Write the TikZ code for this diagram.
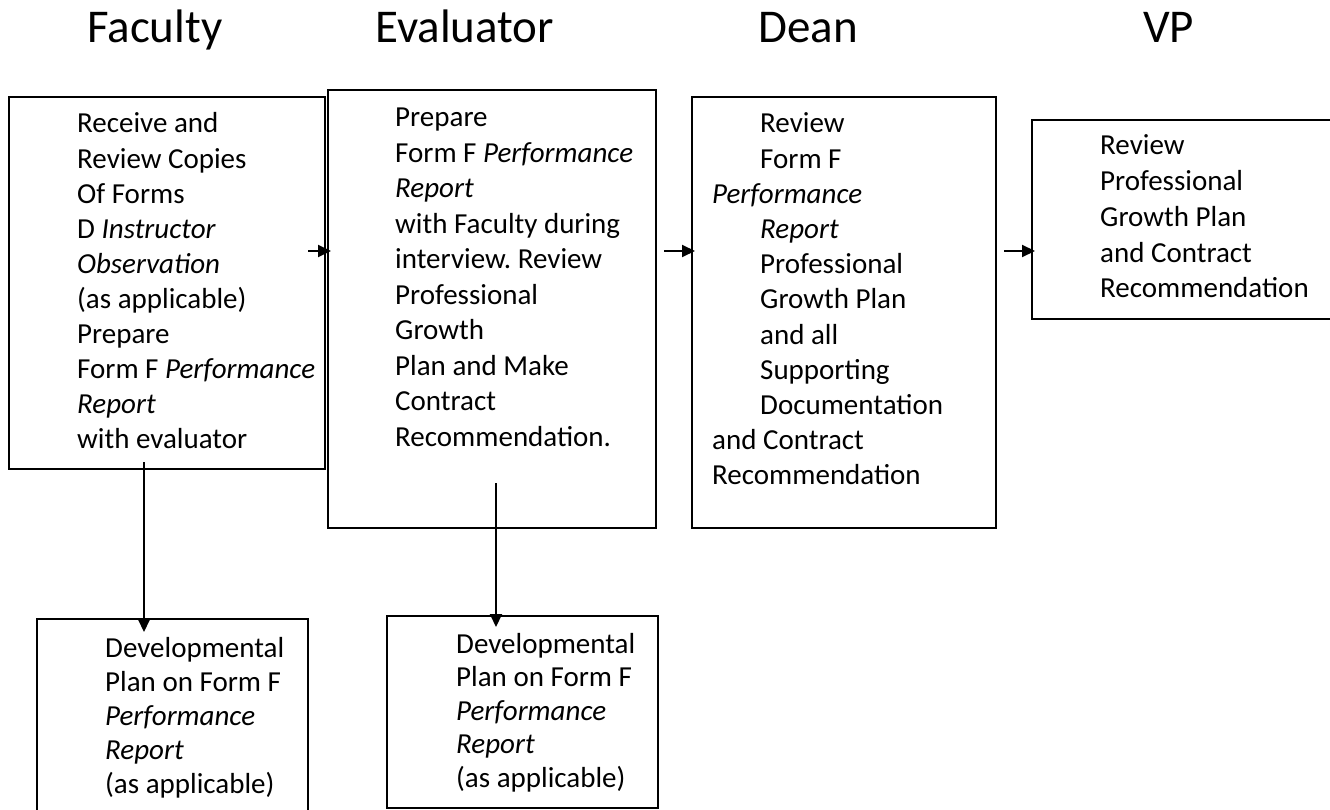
\documentclass[tikz,border=0pt]{standalone}
\usepackage{fontspec}
\setmainfont{Carlito}
\frenchspacing
\usetikzlibrary{arrows.meta,calc}
\begin{document}
\begin{tikzpicture}[x=1pt,y=-1pt,
  box/.style={draw, line width=1.8pt, inner sep=0pt, anchor=north west},
  txt/.style={inner sep=0pt, anchor=base west},
  ttl/.style={inner sep=0pt, anchor=base west, font=\fontsize{47pt}{56pt}\selectfont},
  arr/.style={line width=2pt, -{Triangle[length=13pt,width=12pt]}}]
\fill[white] (0,0) rectangle (1330,810);
\useasboundingbox (0,0) rectangle (1330,810);
% titles
\node[ttl] (h1) at (87,43) {Faculty};
\node[ttl] (h2) at (375,43) {Evaluator};
\node[ttl] (h3) at (758,43) {Dean};
\node[ttl] (h4) at (1143,43) {VP};
% boxes
\node[box, minimum width=316pt, minimum height=372pt] (b1) at (8,96) {};
\node[box, minimum width=328pt, minimum height=438pt] (b2) at (327,89) {};
\node[box, minimum width=304pt, minimum height=431pt] (b3) at (691,96) {};
\node[box, minimum width=310pt, minimum height=199pt] (b4) at (1031,119) {};
\node[box, minimum width=271pt, minimum height=205pt] (b5) at (36,618) {};
\node[box, minimum width=271pt, minimum height=192pt] (b6) at (386,615) {};
% texts
\node[txt] (t1) at (77,133) {\parbox[t]{300pt}{\fontsize{29pt}{35.1pt}\selectfont\raggedright
Receive and\\
Review Copies\\
Of Forms\\
D \textit{Instructor}\\
\textit{Observation}\\
(as applicable)\\
Prepare\\
Form F \textit{Performance}\\
\textit{Report}\\
with evaluator}};
\node[txt] (t2) at (395,127) {\parbox[t]{300pt}{\fontsize{29pt}{35.5pt}\selectfont\raggedright
Prepare\\
Form F \textit{Performance}\\
\textit{Report}\\
with Faculty during\\
interview. Review\\
Professional\\
Growth\\
Plan and Make\\
Contract\\
Recommendation.}};
\node[txt] (t3) at (712,133) {\parbox[t]{300pt}{\fontsize{29pt}{35.2pt}\selectfont\raggedright
\hspace*{48pt}Review\\
\hspace*{48pt}Form F\\
\textit{Performance}\\
\hspace*{48pt}\textit{Report}\\
\hspace*{48pt}Professional\\
\hspace*{48pt}Growth Plan\\
\hspace*{48pt}and all\\
\hspace*{48pt}Supporting\\
\hspace*{48pt}Documentation\\
and Contract\\
Recommendation}};
\node[txt] (t4) at (1100,155) {\parbox[t]{300pt}{\fontsize{29pt}{35.7pt}\selectfont\raggedright
Review\\
Professional\\
Growth Plan\\
and Contract\\
Recommendation}};
\node[txt] (t5) at (105,657) {\parbox[t]{300pt}{\fontsize{29pt}{34pt}\selectfont\raggedright
Developmental\\
Plan on Form F\\
\textit{Performance}\\
\textit{Report}\\
(as applicable)}};
\node[txt] (t6) at (456,653) {\parbox[t]{300pt}{\fontsize{29pt}{33.5pt}\selectfont\raggedright
Developmental\\
Plan on Form F\\
\textit{Performance}\\
\textit{Report}\\
(as applicable)}};
% connectors
\coordinate (s1) at (308,251);
\coordinate (s2) at (664,251);
\coordinate (s3) at (1004,251);
\draw[arr] (s1) -- ($(s1 -| b2.west)+(4,0)$);
\draw[arr] (s2) -- ($(s2 -| b3.west)+(4,0)$);
\draw[arr] (s3) -- ($(s3 -| b4.west)+(4,0)$);
\coordinate (v1) at (144,462);
\coordinate (v2) at (496,483);
\draw[arr] (v1) -- ($(v1 |- b5.north)+(0,14)$);
\draw[arr] (v2) -- ($(v2 |- b6.north)+(0,12)$);
\end{tikzpicture}
\end{document}
